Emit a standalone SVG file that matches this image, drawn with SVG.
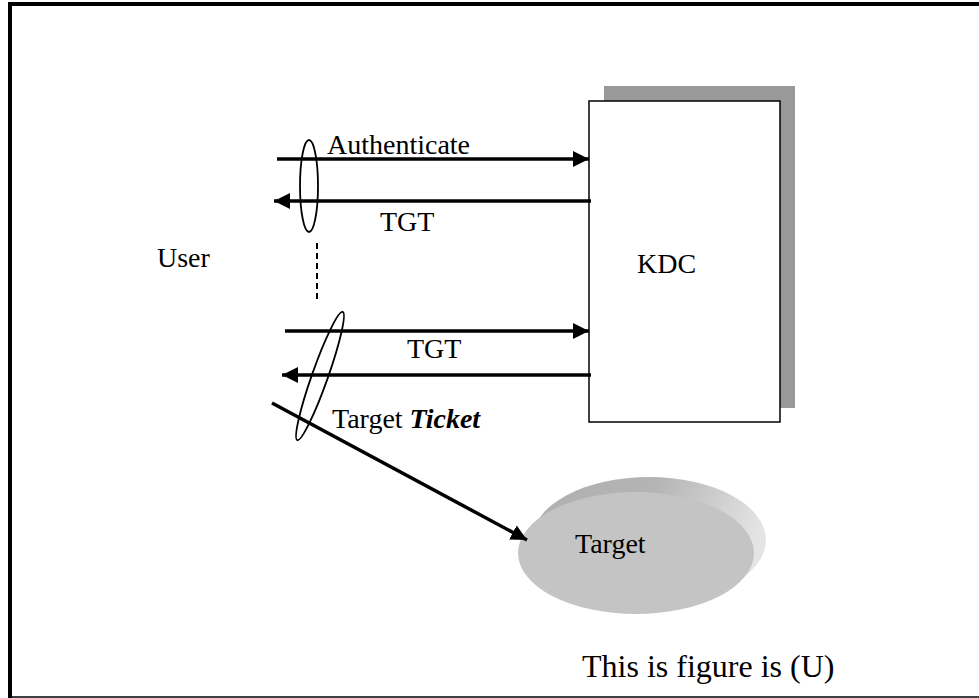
<svg xmlns="http://www.w3.org/2000/svg" width="979" height="698" viewBox="0 0 979 698">
  <style>
    .lbl { font-family: "Liberation Serif", "Times New Roman", serif; font-size: 28px; fill: #000; }
    .cap { font-family: "Liberation Serif", "Times New Roman", serif; font-size: 32px; fill: #000; }
    .msg { stroke: #000; stroke-width: 3.5; fill: none; marker-end: url(#head); }
    .loop { stroke: #000; stroke-width: 1.8; fill: none; }
  </style>
  <defs>
    <marker id="head" markerUnits="userSpaceOnUse" markerWidth="17" markerHeight="16" refX="16" refY="8" orient="auto">
      <path d="M0,0 L16,8 L0,16 z" fill="#000"/>
    </marker>
    <linearGradient id="rim" x1="0" y1="0" x2="1" y2="0.3">
      <stop offset="0" stop-color="#b0b0b0"/>
      <stop offset="0.5" stop-color="#b4b4b4"/>
      <stop offset="1" stop-color="#e4e4e4"/>
    </linearGradient>
  </defs>

  <rect width="979" height="698" fill="#fff"/>

  <!-- page frame -->
  <g id="frame" stroke="#000" fill="none">
    <line x1="8" y1="4" x2="979" y2="4" stroke-width="4"/>
    <line x1="10" y1="2" x2="10" y2="698" stroke-width="4"/>
    <line x1="8" y1="697" x2="979" y2="697" stroke-width="1.5"/>
  </g>

  <!-- KDC box with drop shadow -->
  <g id="kdc">
    <rect x="604" y="86" width="191" height="322" fill="#999"/>
    <rect x="589" y="101" width="191" height="321" fill="#fff" stroke="#000" stroke-width="1.5"/>
    <text class="lbl" x="637" y="273">KDC</text>
  </g>

  <!-- user -->
  <g id="user">
    <text class="lbl" x="157" y="267">User</text>
  </g>

  <!-- target disc -->
  <g id="target">
    <ellipse cx="649" cy="540" rx="117" ry="63" fill="url(#rim)"/>
    <ellipse cx="636" cy="553" rx="118" ry="61" fill="#c4c4c4"/>
    <text class="lbl" x="575" y="553">Target</text>
  </g>

  <!-- message exchanges -->
  <g id="connectors">
    <line class="msg" x1="277" y1="159" x2="589" y2="159"/>
    <line class="msg" x1="591" y1="201" x2="274" y2="201"/>
    <line x1="317" y1="243" x2="317" y2="302" stroke="#000" stroke-width="2" stroke-dasharray="6 4"/>
    <line class="msg" x1="285" y1="331" x2="589" y2="331"/>
    <line class="msg" x1="591" y1="375" x2="282" y2="375"/>
    <line class="msg" x1="272" y1="403" x2="527" y2="540"/>
    <ellipse class="loop" cx="309" cy="186" rx="9" ry="46"/>
    <ellipse class="loop" cx="320" cy="376" rx="8" ry="68" transform="rotate(19.5 320 376)"/>
  </g>

  <!-- message labels -->
  <g id="labels">
    <text class="lbl" x="327" y="154">Authenticate</text>
    <text class="lbl" x="380" y="231">TGT</text>
    <text class="lbl" x="407" y="358">TGT</text>
    <text class="lbl" x="332" y="428">Target <tspan font-weight="bold" font-style="italic">Ticket</tspan></text>
  </g>

  <text class="cap" x="582" y="677">This is figure is (U)</text>
</svg>
